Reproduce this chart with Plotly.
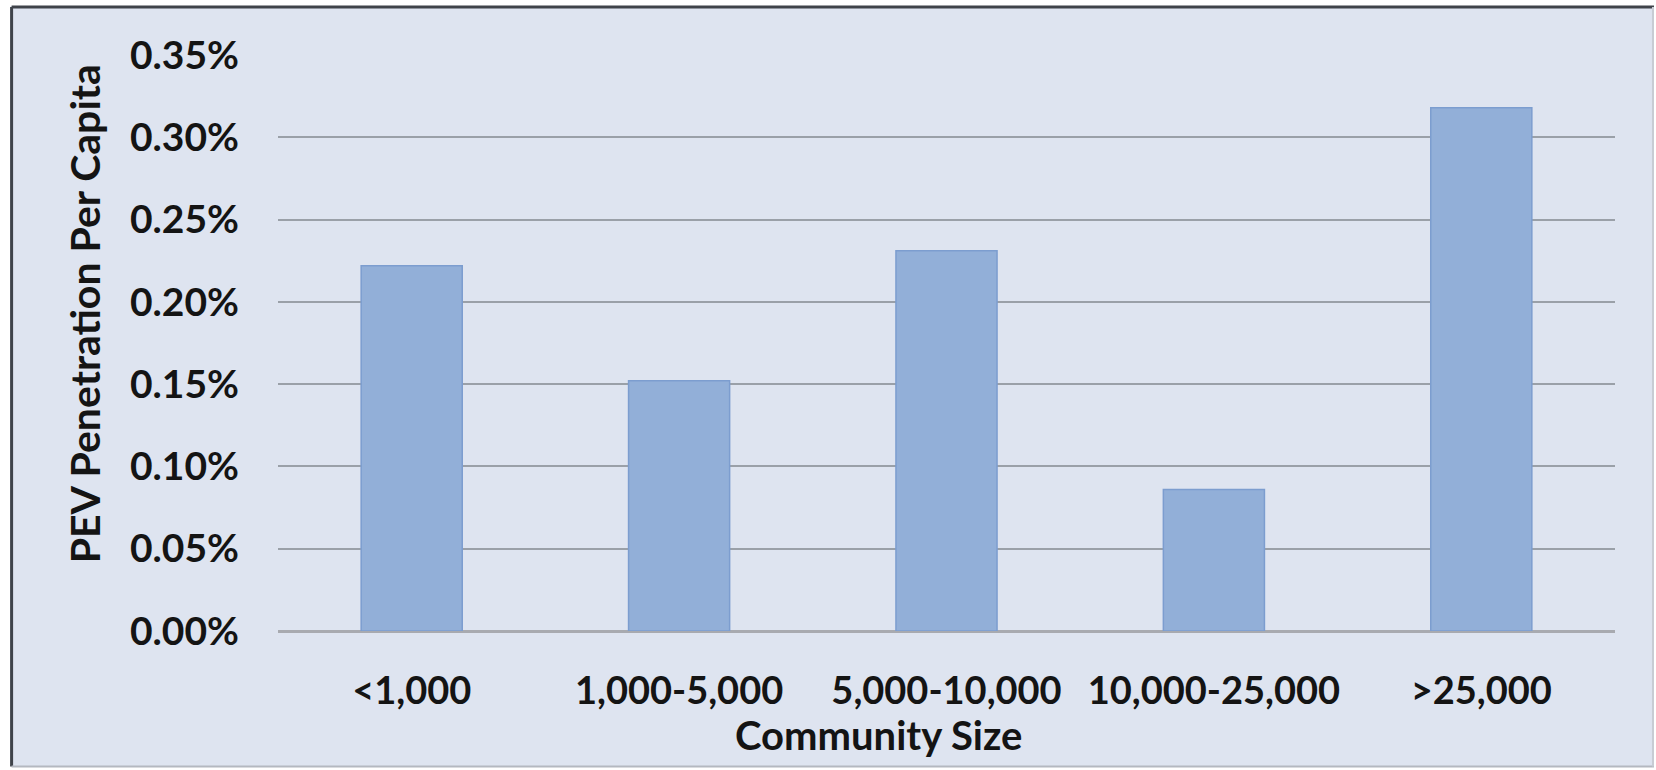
import plotly.graph_objects as go

# ---- data ----
categories = ["<1,000", "1,000-5,000", "5,000-10,000", "10,000-25,000", ">25,000"]
penetration = [0.00222, 0.00152, 0.00231, 0.00086, 0.00318]
y_tick_vals = [0, 0.0005, 0.001, 0.0015, 0.002, 0.0025, 0.003, 0.0035]
x_title = "Community Size"
y_title = "PEV Penetration Per Capita"

# ---- layout geometry (pixels) ----
W, H = 1656, 770
L, R, T, B = 277.5, 41, 55, 138.5
PW, PH = W - L - R, H - T - B


def px(x):
    return (x - L) / PW


def py(y):
    return (H - B - y) / PH


BG = "#dee4f0"
FONT = "Lato"
TXT = "#141414"

fig = go.Figure()
fig.add_trace(go.Bar(
    x=categories,
    y=penetration,
    marker=dict(color="#92afd8", line=dict(color="#7c9dcf", width=1.5)),
    hoverinfo="x+y",
))

fig.update_layout(
    width=W, height=H,
    margin=dict(l=L, r=R, t=T, b=B, pad=0),
    paper_bgcolor="white",
    plot_bgcolor=BG,
    bargap=0.622,
    showlegend=False,
    font=dict(family=FONT, size=38, color=TXT, weight="bold"),
    xaxis=dict(
        showgrid=False, showline=False, zeroline=False,
        ticks="", ticklabelstandoff=34,
        tickfont=dict(family=FONT, size=38, color=TXT, weight="bold"),
    ),
    yaxis=dict(
        range=[0, 0.0035], tickvals=y_tick_vals, tickformat=".2%",
        showgrid=True, gridcolor="#9aa0a8", gridwidth=2,
        zeroline=True, zerolinecolor="#a8aab0", zerolinewidth=3,
        showline=False, ticks="", ticklabelstandoff=38,
        tickfont=dict(family=FONT, size=39, color=TXT, weight="bold"),
    ),
)

# outer chart area background + border
fig.add_shape(type="rect", xref="paper", yref="paper", layer="below",
              x0=px(10), x1=px(1654), y0=py(767), y1=py(6),
              fillcolor=BG, line=dict(width=0))
fig.add_shape(type="line", xref="paper", yref="paper",
              x0=px(11), x1=px(1654), y0=py(7), y1=py(7),
              line=dict(color="#3f434a", width=3))
fig.add_shape(type="line", xref="paper", yref="paper",
              x0=px(11), x1=px(11), y0=py(7), y1=py(767),
              line=dict(color="#3f434a", width=3))
fig.add_shape(type="line", xref="paper", yref="paper",
              x0=px(11), x1=px(1654), y0=py(767), y1=py(767),
              line=dict(color="#b4b8c0", width=2))
fig.add_shape(type="line", xref="paper", yref="paper",
              x0=px(1653), x1=px(1653), y0=py(7), y1=py(767),
              line=dict(color="#c8ccd4", width=2))

# axis titles
fig.add_annotation(text=y_title, xref="paper", yref="paper",
                   x=px(84), y=py(314), xanchor="center", yanchor="middle",
                   textangle=-90, showarrow=False,
                   font=dict(family=FONT, size=41, color=TXT, weight="bold"))
fig.add_annotation(text=x_title, xref="paper", yref="paper",
                   x=px(878), y=py(736), xanchor="center", yanchor="middle",
                   showarrow=False,
                   font=dict(family=FONT, size=40, color=TXT, weight="bold"))

fig.write_html("out.html")
